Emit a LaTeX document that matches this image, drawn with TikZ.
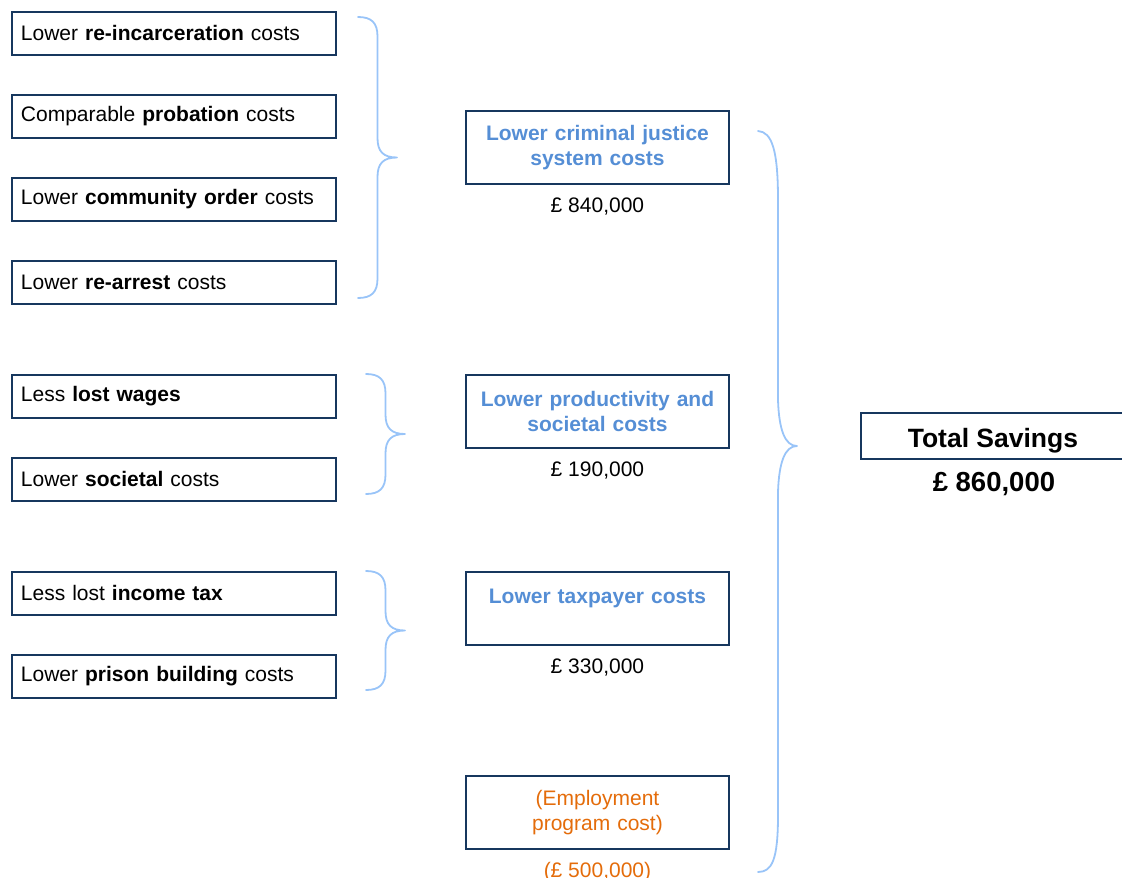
\documentclass[tikz,border=0pt]{standalone}
\usepackage{fontspec}
\setmainfont{Liberation Sans}
\definecolor{navy}{HTML}{17375E}
\definecolor{tblue}{HTML}{558ED5}
\definecolor{bblue}{HTML}{99C4F8}
\definecolor{orng}{HTML}{E46C0A}
\tikzset{
  leftbox/.style={draw=navy,line width=1.9pt,anchor=north west,minimum width=324pt,minimum height=43pt,
    text width=306pt,align=left,inner xsep=9pt,inner ysep=0pt,font=\fontsize{21}{24}\selectfont},
  midbox/.style={draw=navy,line width=1.9pt,anchor=north west,minimum width=263pt,minimum height=73pt,
    text width=252pt,align=center,inner sep=0pt,font=\fontsize{21}{25}\selectfont\bfseries,text=tblue},
  costbox/.style={midbox,font=\fontsize{21}{25}\selectfont,text=orng},
  val/.style={font=\fontsize{21}{24}\selectfont,inner sep=0pt},
  brc/.style={draw=bblue,line width=1.8pt,line cap=round,line join=round},
}
\newcommand{\mybrace}[4]{% x, y1, y2, w
  \draw[brc] (#1,#2) .. controls ({#1+#4*0.35},#2) and ({#1+#4/2},{#2+#4*0.15}) .. ({#1+#4/2},{#2+#4/2})
    -- ({#1+#4/2},{(#2+#3)/2-#4/2}) .. controls ({#1+#4/2},{(#2+#3)/2-#4*0.15}) and ({#1+#4*0.65},{(#2+#3)/2}) .. ({#1+#4},{(#2+#3)/2})
    .. controls ({#1+#4*0.65},{(#2+#3)/2}) and ({#1+#4/2},{(#2+#3)/2+#4*0.15}) .. ({#1+#4/2},{(#2+#3)/2+#4/2})
    -- ({#1+#4/2},{#3-#4/2}) .. controls ({#1+#4/2},{#3-#4*0.15}) and ({#1+#4*0.35},#3) .. (#1,#3);}
\begin{document}
\begin{tikzpicture}[x=1pt,y=-1pt]
\useasboundingbox (0,0) rectangle (1122,878);
\clip (0,0) rectangle (1122,878);
% left boxes
\node[leftbox] (l1) at (11,11) {Lower \textbf{re-incarceration} costs};
\node[leftbox] (l2) at (11,94) {Comparable \textbf{probation} costs};
\node[leftbox] (l3) at (11,177) {Lower \textbf{community order} costs};
\node[leftbox] (l4) at (11,260) {Lower \textbf{re-arrest} costs};
\node[leftbox] (l5) at (11,374) {Less \textbf{lost wages}};
\node[leftbox] (l6) at (11,457) {Lower \textbf{societal} costs};
\node[leftbox] (l7) at (11,571) {Less lost \textbf{income tax}};
\node[leftbox] (l8) at (11,654) {Lower \textbf{prison building} costs};
% braces
\mybrace{358}{17}{298}{39}
\mybrace{366}{374}{494}{39}
\mybrace{366}{571}{690}{39}
\draw[brc] (758,131) .. controls (772,132) and (778,150) .. (778,200) -- (778,400)
  .. controls (779,430) and (785,446) .. (797,446)
  .. controls (785,446) and (779,462) .. (778,492) -- (778,815)
  .. controls (778,860) and (772,872) .. (758,872);
% middle boxes
\node[midbox] (m1) at (465,110) {Lower criminal justice\\system costs};
\node[val] (v1) at ([yshift=-22pt]m1.south) {£ 840,000};
\node[midbox] (m2) at (465,374) {Lower productivity and\\societal costs};
\node[val] (v2) at ([yshift=-22pt]m2.south) {£ 190,000};
\node[midbox] (m3) at (465,571) {Lower taxpayer costs\\\mbox{}};
\node[val] (v3) at ([yshift=-22pt]m3.south) {£ 330,000};
\node[costbox] (m4) at (465,775) {(Employment\\program cost)};
\node[val,text=orng] (v4) at ([yshift=-22pt]m4.south) {(£ 500,000)};
% total
\node[draw=navy,line width=1.9pt,anchor=north west,minimum width=268pt,minimum height=46pt,inner sep=0pt,
  text height=26.5pt,text depth=3.5pt,
  font=\fontsize{26.5}{30}\selectfont\bfseries] (t) at (860,412) {\hspace{-4pt}Total Savings};
\node[inner sep=0pt,font=\fontsize{27.5}{30}\selectfont\bfseries] (tv) at ([yshift=-24pt]t.south) {\hspace{-2pt}£ 860,000};
\end{tikzpicture}
\end{document}
